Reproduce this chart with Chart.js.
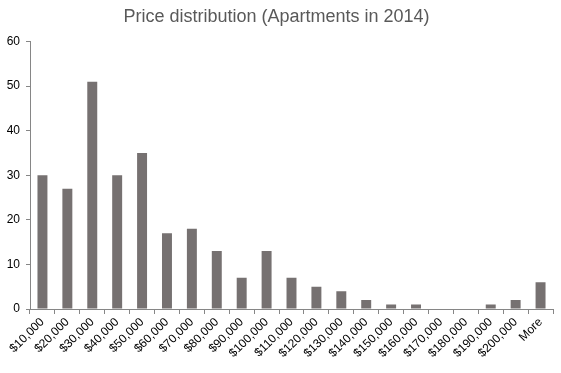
<!DOCTYPE html>
<html>
<head>
<meta charset="utf-8">
<script src="https://cdn.jsdelivr.net/npm/chart.js@4"></script>
<style>
  html, body { margin: 0; padding: 0; background: #fff; }
  #wrap { width: 561px; height: 373px; }
</style>
</head>
<body>
<div id="wrap"><canvas id="chart" width="561" height="373"></canvas></div>
<script>
var categories = ['$10,000', '$20,000', '$30,000', '$40,000', '$50,000', '$60,000', '$70,000',
    '$80,000', '$90,000', '$100,000', '$110,000', '$120,000', '$130,000', '$140,000',
    '$150,000', '$160,000', '$170,000', '$180,000', '$190,000', '$200,000', 'More'];
var frequency = [30, 27, 51, 30, 35, 17, 18, 13, 7, 13, 7, 5, 4, 2, 1, 1, 0, 0, 1, 2, 6];
var yTicks = [0, 10, 20, 30, 40, 50, 60];

var axisColor = '#868686';

new Chart(document.getElementById('chart'), {
    type: 'bar',
    data: {
        labels: categories,
        datasets: [{
            label: 'Frequency',
            data: frequency,
            backgroundColor: '#767171',
            barPercentage: 0.4,
            categoryPercentage: 1.0
        }]
    },
    options: {
        responsive: false,
        animation: false,
        layout: { padding: { top: 6, right: 8, left: 0, bottom: 0 } },
        plugins: {
            legend: { display: false },
            tooltip: { enabled: false },
            title: {
                display: true,
                text: 'Price distribution (Apartments in 2014)',
                color: '#595959',
                font: { family: 'Liberation Sans', size: 18, weight: 'normal' },
                padding: { top: 0, bottom: 14 }
            }
        },
        scales: {
            x: {
                grid: {
                    display: true,
                    drawOnChartArea: false,
                    drawTicks: true,
                    tickLength: 5,
                    color: axisColor,
                    offset: true
                },
                border: { color: axisColor },
                ticks: {
                    color: '#000',
                    font: { family: 'Liberation Sans', size: 12 },
                    maxRotation: 45,
                    minRotation: 45,
                    autoSkip: false,
                    padding: 1
                },
                afterFit: function (scale) { scale.height = 64; }
            },
            y: {
                min: 0,
                max: 60,
                afterBuildTicks: function (scale) {
                    scale.ticks = yTicks.map(function (v) { return { value: v }; });
                },
                grid: {
                    display: true,
                    drawOnChartArea: false,
                    drawTicks: true,
                    tickLength: 4,
                    color: axisColor
                },
                border: { color: axisColor },
                ticks: {
                    color: '#000',
                    font: { family: 'Liberation Sans', size: 12 },
                    padding: 6
                },
                afterFit: function (scale) { scale.width = 30; }
            }
        }
    }
});
</script>
</body>
</html>
